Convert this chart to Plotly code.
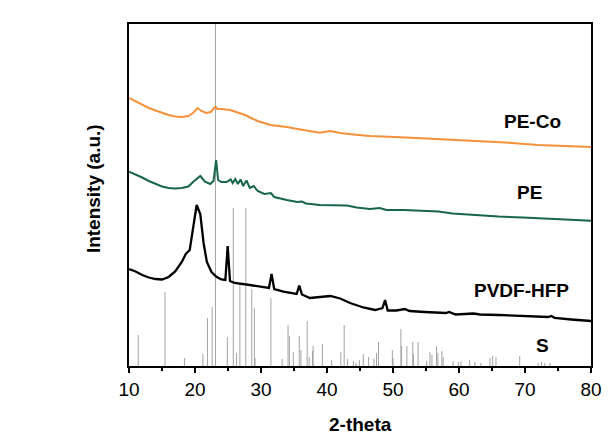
import plotly.graph_objects as go

# ---- data (x = 2-theta, y = intensity a.u.) ----
pe_co_x = [10, 11, 12, 13, 14, 15, 16, 17, 18, 19, 19.7, 20.4, 21, 21.7, 22.4, 22.9, 23.1, 23.4,
           24, 25.3, 26.5, 27.6, 28.5, 29.5, 31.4, 33.9, 36, 38.9, 40.5, 42, 44, 46.5, 52, 57,
           62, 67, 72, 76, 80]
pe_co_y = [268, 264.5, 261, 258, 255.5, 253, 251, 249.5, 249, 250, 253, 258, 255, 253, 254, 258,
           259.5, 257, 257, 256, 253.5, 251, 248, 245, 241, 239, 236.5, 233.3, 235, 233, 231.5,
           230, 228.5, 227, 225.3, 223.5, 221, 220, 219]

pe_x = [10, 11, 12, 13, 14, 15, 16, 17, 18, 19, 19.7, 20.8, 21.5, 22.3, 22.8, 23.2, 23.5, 24,
        24.8, 25.4, 25.7, 26.1, 26.5, 26.9, 27.3, 27.8, 28.3, 28.9, 29.5, 30.5, 31.5, 32, 33.9,
        35.5, 36.2, 36.8, 38.9, 41, 43, 44.5, 46.5, 48, 49, 51.6, 54, 56.9, 59, 62.2, 66, 69.7,
        75, 80]
pe_y = [194.3, 191.5, 188.5, 185, 182, 179.5, 178, 177.5, 178, 179.5, 184, 190, 184.3, 182, 185,
        206, 186, 184, 184, 186.5, 183, 187, 182, 186.5, 180, 185.5, 178, 180, 175, 172, 173, 169,
        166, 164, 164.5, 162.5, 161, 160.5, 160.5, 158.5, 157, 158, 156, 156, 155, 154.5, 152.5,
        151, 149.5, 148.5, 146.5, 145.3]

pvdf_x = [10, 11, 12, 13, 14, 15, 16, 17, 18, 18.6, 19.2, 19.7, 20.25, 20.8, 21.3, 21.8, 22.5,
          23.3, 24, 24.6, 24.95, 25.3, 26, 28.3, 30, 31.2, 31.6, 32, 33.4, 35.4, 35.8, 36.2, 37.4,
          39, 40.5, 42, 43.5, 45.5, 47.3, 48.4, 48.8, 49.2, 50.5, 51.8, 52.5, 54.8, 58, 58.5,
          59.5, 62.2, 63.2, 66, 70, 73.5, 74, 74.5, 77, 80]
pvdf_y = [97, 94.5, 91, 88.5, 87, 86.5, 89, 94.5, 104, 112, 116, 138, 161, 152, 123, 104, 94,
          89, 86.5, 86, 120, 85, 83, 81, 79, 78, 92, 77, 74.3, 72, 80.3, 71.5, 68, 69, 70, 67.5,
          63, 58.5, 56, 58, 66, 55.5, 55.5, 57, 55, 54, 53, 54, 51.5, 52.5, 51.5, 51, 50, 49, 50,
          48, 46.5, 45]

s_x = [11.4, 15.45, 18.4, 21.2, 21.9, 22.6, 23.1, 24.9, 25.8, 26.3, 26.8, 27.7, 28.6, 29.0, 29.1,
       31.5, 33.2, 34.1, 34.3, 34.9, 35.8, 36.05, 37.0, 37.3, 37.8, 37.9, 39.3, 40.7, 42.1, 42.6,
       43.1, 44.0, 44.4, 44.9, 45.5, 46.3, 47.1, 47.5, 47.8, 49.9, 50.0, 51.2, 51.3, 52.1, 53.0,
       53.1, 53.8, 55.1, 55.6, 55.9, 56.6, 56.8, 57.4, 57.6, 59.1, 59.9, 60.3, 61.6, 62.4, 63.3,
       64.7, 65.1, 65.6, 69.2, 72.0, 72.5, 73.0, 73.8]
s_y = [31, 74, 8, 12, 48, 59, 400, 29, 158, 13, 82, 158, 77, 58, 8, 68, 7, 41, 30, 14, 30, 16,
       45, 9, 15, 20, 22, 6, 14, 41, 7, 5, 3, 6, 12, 9, 7, 13, 24, 16, 8, 37, 20, 20, 24, 12, 24,
       5, 14, 11, 20, 13, 15, 9, 5, 4, 5, 6, 4, 3, 8, 10, 9, 10, 3, 4, 3, 3]

x_ticks = [10, 20, 30, 40, 50, 60, 70, 80]

labels = ["PE-Co", "PE", "PVDF-HFP", "S"]
label_x = [71.2, 70.75, 69.4, 72.7]
label_y = [245, 174, 75.5, 21]

FONT = "Arial, Liberation Sans, sans-serif"

fig = go.Figure()

# reference sticks (vertical lines from baseline)
stick_x, stick_y = [], []
for xv, hv in zip(s_x, s_y):
    stick_x += [xv, xv, None]
    stick_y += [0, hv, None]
fig.add_trace(go.Scatter(x=stick_x, y=stick_y, mode="lines",
                         line=dict(color="#a3a3a3", width=1), hoverinfo="skip"))

fig.add_trace(go.Scatter(x=pvdf_x, y=pvdf_y, mode="lines", line=dict(color="#000000", width=2.3)))
fig.add_trace(go.Scatter(x=pe_x, y=pe_y, mode="lines", line=dict(color="#17664A", width=2)))
fig.add_trace(go.Scatter(x=pe_co_x, y=pe_co_y, mode="lines", line=dict(color="#F5903A", width=2)))

for t, xv, yv in zip(labels, label_x, label_y):
    fig.add_annotation(x=xv, y=yv, xref="x", yref="y", text=f"<b>{t}</b>", showarrow=False,
                       xanchor="center", yanchor="middle",
                       font=dict(family=FONT, size=19, color="#000"))

fig.add_annotation(x=0.5, y=-0.135, xref="paper", yref="paper", xanchor="center", yanchor="top",
                   text="<b>2-theta</b>", showarrow=False,
                   font=dict(family=FONT, size=19, color="#000"))
fig.add_annotation(x=-0.078, y=0.52, xref="paper", yref="paper", xanchor="center",
                   yanchor="middle", text="<b>Intensity (a.u.)</b>",
                   showarrow=False, textangle=-90,
                   font=dict(family=FONT, size=19, color="#000"))

fig.update_layout(
    width=608, height=437,
    margin=dict(l=129, r=17, t=24, b=71, autoexpand=False),
    paper_bgcolor="white", plot_bgcolor="white",
    showlegend=False,
    xaxis=dict(range=[10, 80], tickvals=x_ticks, ticks="outside", ticklen=5, tickwidth=1.5,
               tickcolor="#000", showline=True, linecolor="#000", linewidth=2, mirror=True,
               showgrid=False, zeroline=False, automargin=False,
               tickfont=dict(family=FONT, size=19, color="#000"),
               tickprefix="<b>", ticksuffix="</b>",
               minor=dict(ticks="outside", ticklen=3, tickwidth=1.5, tickcolor="#000", dtick=5,
                          showgrid=False)),
    yaxis=dict(range=[0, 342], showticklabels=False, ticks="", showline=True, linecolor="#000",
               linewidth=2, mirror=True, showgrid=False, zeroline=False, automargin=False),
)

fig.write_html("out.html")
